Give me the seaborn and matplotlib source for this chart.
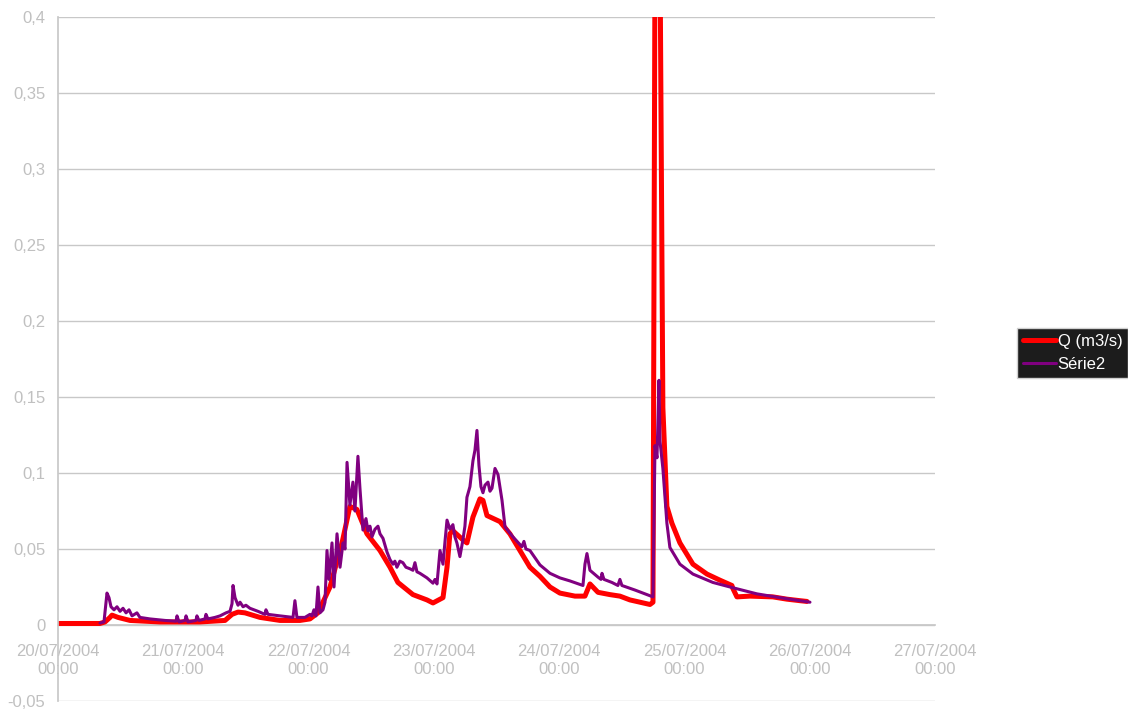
import numpy as np
import pandas as pd
import matplotlib
matplotlib.use("Agg")
import matplotlib.pyplot as plt
import matplotlib.dates as mdates
from matplotlib.ticker import FuncFormatter
import seaborn as sns

# ---- data (days since 20/07/2004 00:00, values in m3/s) ----
q_days = [0.000, 0.335, 0.375, 0.415, 0.431, 0.479, 0.575, 0.814, 1.133, 1.333, 1.389,
          1.437, 1.492, 1.612, 1.772, 1.931, 2.011, 2.075, 2.171, 2.267, 2.330, 2.386,
          2.466, 2.570, 2.650, 2.713, 2.833, 2.945, 2.993, 3.073, 3.105, 3.128, 3.152,
          3.232, 3.264, 3.312, 3.368, 3.392, 3.424, 3.528, 3.607, 3.687, 3.767, 3.847,
          3.927, 4.006, 4.126, 4.206, 4.246, 4.310, 4.405, 4.485, 4.565, 4.645, 4.725,
          4.749, 4.773, 4.793, 4.828, 4.860, 4.900, 4.964, 5.068, 5.180, 5.283, 5.379,
          5.387, 5.419, 5.523, 5.706, 5.818, 5.922, 5.978]
q_vals = [0.001, 0.001, 0.002, 0.005, 0.0065, 0.005, 0.003, 0.002, 0.002, 0.003, 0.007,
          0.0085, 0.008, 0.005, 0.003, 0.003, 0.004, 0.008, 0.025, 0.054, 0.078, 0.076,
          0.060, 0.049, 0.038, 0.028, 0.020, 0.0165, 0.0145, 0.018, 0.038, 0.060, 0.062,
          0.056, 0.054, 0.071, 0.083, 0.082, 0.072, 0.068, 0.060, 0.049, 0.038, 0.032,
          0.025, 0.021, 0.019, 0.019, 0.027, 0.0215, 0.020, 0.019, 0.0165, 0.015, 0.0135,
          0.015, 0.650, 0.600, 0.143, 0.078, 0.067, 0.054, 0.040, 0.0335, 0.0295, 0.026,
          0.024, 0.0185, 0.019, 0.0185, 0.017, 0.016, 0.0155]

s2_days = [0.335, 0.367, 0.391, 0.407, 0.423, 0.447, 0.471, 0.495, 0.519, 0.543, 0.567,
           0.591, 0.630, 0.654, 0.734, 0.854, 0.942, 0.950, 0.966, 1.014, 1.022, 1.038,
           1.101, 1.109, 1.125, 1.173, 1.181, 1.197, 1.253, 1.293, 1.341, 1.373, 1.389,
           1.397, 1.413, 1.437, 1.453, 1.477, 1.500, 1.532, 1.596, 1.652, 1.660, 1.676,
           1.772, 1.876, 1.891, 1.907, 1.971, 2.011, 2.027, 2.043, 2.059, 2.075, 2.091,
           2.115, 2.131, 2.147, 2.163, 2.187, 2.203, 2.227, 2.251, 2.275, 2.291, 2.307,
           2.330, 2.354, 2.370, 2.394, 2.410, 2.434, 2.458, 2.474, 2.490, 2.506, 2.530,
           2.554, 2.570, 2.594, 2.626, 2.650, 2.674, 2.689, 2.705, 2.729, 2.753, 2.777,
           2.809, 2.833, 2.849, 2.865, 2.889, 2.945, 2.993, 3.009, 3.025, 3.049, 3.073,
           3.089, 3.105, 3.128, 3.152, 3.168, 3.184, 3.208, 3.232, 3.248, 3.264, 3.288,
           3.312, 3.328, 3.344, 3.360, 3.376, 3.392, 3.408, 3.432, 3.448, 3.464, 3.488,
           3.512, 3.544, 3.568, 3.631, 3.703, 3.719, 3.735, 3.767, 3.847, 3.927, 4.006,
           4.086, 4.190, 4.206, 4.222, 4.246, 4.310, 4.334, 4.342, 4.358, 4.421, 4.469,
           4.485, 4.501, 4.605, 4.749, 4.765, 4.781, 4.797, 4.805, 4.828, 4.860, 4.884,
           4.964, 5.068, 5.227, 5.387, 5.578, 5.762, 6.002]
s2_vals = [0.0013, 0.002, 0.021, 0.018, 0.012, 0.010, 0.012, 0.009, 0.011, 0.008, 0.010,
           0.006, 0.008, 0.005, 0.004, 0.003, 0.0025, 0.006, 0.002, 0.003, 0.006, 0.002,
           0.003, 0.006, 0.003, 0.004, 0.007, 0.004, 0.005, 0.006, 0.008, 0.009, 0.014,
           0.026, 0.018, 0.013, 0.015, 0.012, 0.013, 0.011, 0.009, 0.007, 0.010, 0.007,
           0.006, 0.005, 0.016, 0.005, 0.005, 0.007, 0.006, 0.010, 0.006, 0.025, 0.008,
           0.010, 0.015, 0.049, 0.030, 0.054, 0.025, 0.060, 0.038, 0.054, 0.050, 0.107,
           0.079, 0.094, 0.075, 0.111, 0.090, 0.0625, 0.070, 0.062, 0.065, 0.058, 0.063,
           0.065, 0.060, 0.057, 0.048, 0.043, 0.040, 0.042, 0.038, 0.042, 0.041, 0.038,
           0.037, 0.036, 0.041, 0.035, 0.034, 0.031, 0.0275, 0.030, 0.027, 0.049, 0.040,
           0.055, 0.069, 0.063, 0.066, 0.058, 0.054, 0.045, 0.056, 0.065, 0.084, 0.091,
           0.108, 0.115, 0.128, 0.105, 0.091, 0.087, 0.092, 0.094, 0.088, 0.090, 0.103,
           0.099, 0.082, 0.0645, 0.058, 0.0515, 0.055, 0.050, 0.049, 0.0395, 0.034, 0.031,
           0.029, 0.026, 0.040, 0.047, 0.036, 0.0315, 0.030, 0.034, 0.030, 0.028, 0.026,
           0.030, 0.026, 0.023, 0.0185, 0.118, 0.110, 0.161, 0.121, 0.103, 0.067, 0.051,
           0.040, 0.0335, 0.028, 0.0245, 0.0205, 0.018, 0.015]

series_names = ["Q (m3/s)", "Série2"]
y_ticks = [-0.05, 0.0, 0.05, 0.1, 0.15, 0.2, 0.25, 0.3, 0.35, 0.4]
start = pd.Timestamp("2004-07-20 00:00")
n_days = 7

# ---- style ----
sns.set_theme(style="white")
plt.rcParams["font.family"] = ["Liberation Sans", "DejaVu Sans"]
txt_col = "#c0c0c0"
grid_col = "#c8c8c8"

W, H = 1128, 710
fig = plt.figure(figsize=(W / 100, H / 100), dpi=100)
ax = fig.add_axes([58 / W, 9 / H, 877 / W, 684 / H])

dq = pd.DataFrame({"t": start + pd.to_timedelta(q_days, unit="D"), "v": q_vals})
ds = pd.DataFrame({"t": start + pd.to_timedelta(s2_days, unit="D"), "v": s2_vals})
sns.lineplot(data=dq, x="t", y="v", ax=ax, color="#ff0000", linewidth=3.6,
             label=series_names[0], estimator=None, sort=False)
sns.lineplot(data=ds, x="t", y="v", ax=ax, color="#800080", linewidth=2.2,
             label=series_names[1], estimator=None, sort=False)

ax.set_xlim(start, start + pd.Timedelta(days=n_days))
ax.set_ylim(-0.05, 0.4)
ax.set_xlabel("")
ax.set_ylabel("")

ax.set_yticks(y_ticks)
ax.yaxis.set_major_formatter(FuncFormatter(lambda v, p: (f"{v:.2f}".rstrip("0").rstrip(".") if abs(v) > 1e-9 else "0").replace(".", ",")))
ax.xaxis.set_major_locator(mdates.DayLocator())
ax.xaxis.set_major_formatter(mdates.DateFormatter("%d/%m/%Y\n%H:%M"))

for yv in y_ticks:
    ax.axhline(yv, color=grid_col, lw=1.0, zorder=0)

for s in ["top", "right"]:
    ax.spines[s].set_visible(False)
ax.spines["left"].set_color(grid_col)
ax.spines["bottom"].set_color(grid_col)
ax.spines["bottom"].set_position(("data", 0))
ax.spines["bottom"].set_zorder(0)

ax.tick_params(axis="both", colors=grid_col, labelcolor=txt_col, labelsize=12,
               direction="out", length=5, width=1)
ax.tick_params(axis="x", pad=9)
ax.tick_params(axis="y", pad=4)
ax.set_zorder(1)

leg = ax.legend(loc="center left", bbox_to_anchor=(1017 / W, 1 - 353 / H),
                bbox_transform=fig.transFigure, fontsize=12, frameon=True,
                fancybox=False, handlelength=2.0, handletextpad=0.08,
                borderpad=0.35, borderaxespad=0, labelspacing=0.45)
frame = leg.get_frame()
frame.set_facecolor("#1c1c1c")
frame.set_edgecolor("#d0d0d0")
frame.set_alpha(1)
for t in leg.get_texts():
    t.set_color("white")

fig.savefig("out.png", dpi=100)
